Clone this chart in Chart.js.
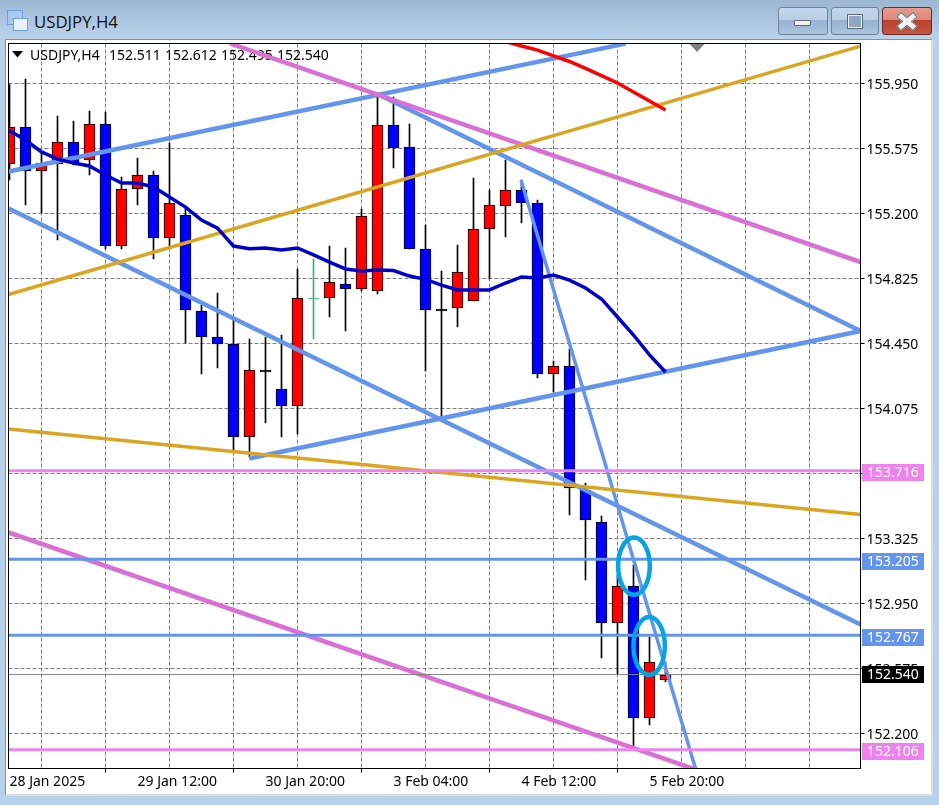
<!DOCTYPE html>
<html lang="en">
<head>
<meta charset="UTF-8">
<title>USDJPY,H4</title>
<script src="https://cdn.jsdelivr.net/npm/chart.js@4"></script>
<style>
    html, body { margin: 0; padding: 0; }
    body { width: 939px; height: 805px; overflow: hidden; position: relative; background: #b8d1ec; }
    #titlebar { position: absolute; left: 0; top: 0; width: 939px; height: 39px; background: linear-gradient(#9db6d2, #bad3ed); }
    #title { position: absolute; left: 34px; top: 10px; font: 16.8px "Open Sans", sans-serif; line-height: 24px; color: #111; }
    .icon { position: absolute; box-sizing: border-box; border: 1px solid #6f9fe0; }
    .btn { position: absolute; top: 7px; height: 28px; box-sizing: border-box; border: 1px solid #6f8299; border-radius: 3px;
           background: linear-gradient(#c3d6ea 0, #b9cfe6 46%, #97b1cf 47%, #abc4de 100%); }
    #btn-close { border-color: #6d2a2a; background: linear-gradient(#e59a8c 0, #dc8878 46%, #b8412b 47%, #c4553f 100%); }
    .glyph { position: absolute; box-sizing: border-box; background: #f4f4f4; border: 1px solid #5f6b7a; }
    #client { position: absolute; left: 5px; top: 39px; width: 928px; height: 757px; box-sizing: border-box; background: #fff;
              border-left: 1px solid #8f8f8f; border-top: 1px solid #8f8f8f; border-right: 2px solid #dedede; border-bottom: 2px solid #dedede; }
    #mychart { position: absolute; left: 0; top: 0; }
</style>
</head>
<body>
<div id="titlebar">
    <div class="icon" style="left:7px;top:10px;width:16px;height:15px;background:#a9c9ee"></div>
    <div class="icon" style="left:13px;top:18px;width:15px;height:13px;background:#e8f1fb"></div>
    <div id="title">USDJPY,H4</div>
    <div class="btn" style="left:778px;width:50px"><div class="glyph" style="left:15px;top:12px;width:17px;height:6px;border-radius:1px"></div></div>
    <div class="btn" style="left:831px;width:48px"><div class="glyph" style="left:15px;top:6px;width:16px;height:15px;border:2px solid #f0f0f0;outline:1px solid #5f6b7a;outline-offset:-1px;background:#8ea8c4"></div></div>
    <div class="btn" id="btn-close" style="left:882px;width:50px">
        <div class="glyph" style="left:13px;top:10px;width:22px;height:7px;transform:rotate(40deg)"></div>
        <div class="glyph" style="left:13px;top:10px;width:22px;height:7px;transform:rotate(-40deg)"></div>
        <div style="position:absolute;left:20px;top:10px;width:8px;height:7px;background:#f4f4f4"></div>
    </div>
</div>
<div id="client"></div>
<canvas id="mychart" width="939" height="805"></canvas>
<script>
    // candles, left to right, one per 4 hours
    var opens  = [155.486,155.699,155.448,155.486,155.612,155.506,155.716,155.015,155.344,155.422,155.056,155.191,154.640,154.485,154.450,153.908,154.300,154.190,154.092,154.715,154.715,154.796,154.762,154.753,155.711,155.581,154.998,154.649,154.652,154.695,155.113,155.246,155.338,155.263,154.274,154.320,153.605,153.423,152.840,153.051,152.289,152.511];
    var highs  = [155.947,155.976,155.549,155.762,155.734,155.791,155.786,155.411,155.520,155.445,155.607,155.243,154.672,154.741,154.586,154.476,154.488,154.499,154.880,154.935,155.012,155.001,155.226,155.872,155.872,155.716,155.134,154.868,155.018,155.405,155.336,155.509,155.393,155.278,154.349,154.418,153.645,153.455,153.114,153.172,152.757,152.612];
    var lows   = [155.393,155.249,155.203,155.047,155.480,155.422,154.995,154.995,155.249,154.937,155.007,154.453,154.274,154.309,153.830,153.797,153.991,153.913,153.928,154.476,154.603,154.522,154.753,154.738,155.465,154.998,154.291,154.020,154.545,154.695,154.822,155.064,155.145,154.251,154.170,153.461,153.086,152.636,152.543,152.122,152.249,152.495];
    var closes = [155.699,155.448,155.491,155.612,155.491,155.716,155.015,155.344,155.422,155.056,155.261,154.646,154.485,154.450,153.908,154.300,154.300,154.092,154.715,154.715,154.802,154.767,155.188,155.711,155.578,154.998,154.646,154.649,154.865,155.108,155.249,155.338,155.263,154.274,154.320,153.616,153.429,152.840,153.051,152.292,152.610,152.540];
    var greenBars = [19];

    // moving averages
    var blueMa = [155.678,155.624,155.555,155.514,155.491,155.474,155.422,155.376,155.376,155.353,155.295,155.237,155.162,155.116,155.012,154.997,155.001,154.989,155.001,154.961,154.920,154.880,154.868,154.874,154.871,154.839,154.820,154.787,154.759,154.759,154.759,154.799,154.834,154.828,154.845,154.816,154.770,154.707,154.603,154.499,154.384,154.286];
    var redMaBars = [31,32,33,34,35,36,37,38,39,40,41];
    var redMa = [156.192,156.166,156.143,156.109,156.077,156.037,155.996,155.953,155.901,155.849,155.797];

    // trend lines: [bar, price] at both ends
    var channelTop     = [[-0.06,155.442],[38.5,156.180]];
    var channelFall    = [[23,155.890],[53.19,154.522]];
    var channelLow     = [[-0.06,155.229],[53.19,152.829]];
    var channelRise    = [[14.97,153.787],[53.19,154.522]];
    var steepFall      = [[31.97,155.393],[42.875,151.998]];
    var orchidTop      = [[13.78,156.181],[53.19,154.920]];
    var orchidLow      = [[-0.06,153.360],[53.19,151.664]];
    var goldRise       = [[-0.06,154.733],[53.19,156.166]];
    var goldFall       = [[-0.06,153.957],[53.19,153.463]];

    // circled areas: centre bar, centre price, radius in bars, radius in price
    var circledBars = [39.03,39.98];
    var circledPrices = [153.166,152.705];
    var circledBarRadius = [0.99,0.98];
    var circledPriceRadius = [0.165,0.167];

    // right axis
    var yTicks = [155.95,155.575,155.2,154.825,154.45,154.075,153.7,153.325,152.95,152.575,152.2];
    var levelPrices = [153.716,153.205,152.767,152.106];
    var levelColors = ['#ee82ee','#6495ed','#6495ed','#ee82ee'];
    var lastPrice = 152.54;

    // bottom axis
    var gridBars = [0,4,8,12,16,20,24,28,32,36,40,44,48,52];
    var labelBars = [0,8,16,24,32,40];
    var labelTexts = ['28 Jan 2025','29 Jan 12:00','30 Jan 20:00','3 Feb 04:00','4 Feb 12:00','5 Feb 20:00'];

    // header
    var symbolText = 'USDJPY,H4';
    var headerValues = [152.511,152.612,152.495,152.540];

    var textFont = '14px "Noto Sans"';
    var barNumbers = closes.map(function (c, i) { return i; });

    function isGreen(i) { return greenBars.indexOf(i) >= 0; }
    function bodyFill(i) {
        if (isGreen(i)) return '#3cb371';
        if (opens[i] === closes[i]) return '#000';
        return closes[i] > opens[i] ? '#ff0000' : '#0000ff';
    }
    function pairs(list) {
        return list.map(function (p) { return {x: p[0], y: p[1]}; });
    }
    function lineSet(points, color, width) {
        return {type: 'line', data: points, borderColor: color, borderWidth: width, pointRadius: 0, tension: 0,
                order: 5, clip: 0, parsing: {xAxisKey: 'x', yAxisKey: 'y'}};
    }
    function flatLine(price) {
        return [{x: -0.06, y: price}, {x: 53.19, y: price}];
    }

    var datasets = [];
    datasets.push({type: 'bar', order: 20, clip: 0, grouped: false, barThickness: 1, borderWidth: 0,
        data: barNumbers.map(function (i) { return {x: i, y: [lows[i], highs[i]]}; }),
        backgroundColor: barNumbers.map(function (i) { return isGreen(i) ? '#3cb371' : '#000'; })});
    datasets.push({type: 'bar', order: 19, clip: 0, grouped: false, barThickness: 11, borderWidth: 1, borderSkipped: false,
        data: barNumbers.map(function (i) { return {x: i, y: [opens[i], closes[i]]}; }),
        backgroundColor: barNumbers.map(bodyFill),
        borderColor: barNumbers.map(function (i) { return isGreen(i) ? '#3cb371' : '#000'; })});

    datasets.push(lineSet(barNumbers.map(function (i) { return {x: i, y: blueMa[i]}; }), '#0000cd', 3.5));
    datasets.push(lineSet(redMaBars.map(function (b, i) { return {x: b, y: redMa[i]}; }), '#ff0000', 3.5));
    datasets.push(lineSet(flatLine(lastPrice), '#808080', 1));
    levelPrices.forEach(function (p, i) { datasets.push(lineSet(flatLine(p), levelColors[i], 3)); });
    datasets.push(lineSet(pairs(goldRise), '#daa520', 3.5));
    datasets.push(lineSet(pairs(goldFall), '#daa520', 3.5));
    datasets.push(lineSet(pairs(orchidTop), '#da70d6', 4.5));
    datasets.push(lineSet(pairs(orchidLow), '#da70d6', 4.5));
    datasets.push(lineSet(pairs(channelTop), '#6495ed', 4.5));
    datasets.push(lineSet(pairs(channelFall), '#6495ed', 4.5));
    datasets.push(lineSet(pairs(channelLow), '#6495ed', 4.5));
    datasets.push(lineSet(pairs(channelRise), '#6495ed', 4.5));
    datasets.push(lineSet(pairs(steepFall), '#6495ed', 3.5));

    // candles in the terminal sit on whole pixels
    var snapBars = {
        id: 'snapBars',
        afterDatasetsUpdate: function (chart) {
            chart.getSortedVisibleDatasetMetas().forEach(function (meta) {
                if (meta.type !== 'bar') return;
                meta.data.forEach(function (el, i) {
                    el.y = Math.round(el.y);
                    el.base = Math.round(el.base);
                    if (el.y === el.base) el.base = el.y + (isGreen(i) ? 1 : 2);
                });
            });
        }
    };

    var chartFurniture = {
        id: 'chartFurniture',
        beforeDatasetsDraw: function (chart) {
            var c = chart.ctx;
            c.save();
            c.fillStyle = '#000';
            c.beginPath();
            c.moveTo(12, 51); c.lineTo(23, 51); c.lineTo(17.5, 57.5);
            c.closePath(); c.fill();
            c.font = textFont;
            c.textBaseline = 'middle';
            c.textAlign = 'left';
            c.fillText(symbolText, 30, 56);
            headerValues.forEach(function (v, i) { c.fillText(v.toFixed(3), 109 + 56 * i, 56); });
            c.fillStyle = '#808080';
            c.beginPath();
            c.moveTo(689, 43.5); c.lineTo(705, 43.5); c.lineTo(697, 52);
            c.closePath(); c.fill();
            c.restore();
        },
        afterDatasetsDraw: function (chart) {
            var c = chart.ctx, x = chart.scales.x, y = chart.scales.y, a = chart.chartArea;
            c.save();
            c.strokeStyle = '#08a4e0';
            c.lineWidth = 4.5;
            circledBars.forEach(function (b, i) {
                var cx = x.getPixelForValue(b), cy = y.getPixelForValue(circledPrices[i]);
                var rx = x.getPixelForValue(b + circledBarRadius[i]) - cx;
                var ry = y.getPixelForValue(circledPrices[i] - circledPriceRadius[i]) - cy;
                c.beginPath();
                c.ellipse(cx, cy, rx, ry, 0, 0, Math.PI * 2);
                c.stroke();
            });
            c.strokeStyle = '#000';
            c.lineWidth = 1;
            c.strokeRect(a.left, a.top, a.right - a.left, a.bottom - a.top);

            var tags = levelPrices.map(function (p, i) { return {p: p, color: levelColors[i], up: 6}; });
            tags.push({p: lastPrice, color: '#000', up: 8});
            c.font = textFont;
            c.textBaseline = 'middle';
            c.textAlign = 'left';
            tags.forEach(function (t) {
                var top = Math.floor(y.getPixelForValue(t.p)) - t.up;
                c.fillStyle = t.color;
                c.fillRect(862, top, 62, 17);
                c.fillStyle = '#fff';
                c.fillText(t.p.toFixed(3), 867, top + 9.5);
            });
            c.restore();
        }
    };

    var myChart = new Chart(document.getElementById('mychart'), {
        type: 'bar',
        data: {datasets: datasets},
        plugins: [snapBars, chartFurniture],
        options: {
            responsive: false,
            animation: false,
            events: [],
            layout: {padding: {left: 8.5, top: 43.5, right: 0, bottom: 0}},
            plugins: {legend: {display: false}, tooltip: {enabled: false}, title: {display: false}},
            scales: {
                x: {
                    type: 'linear',
                    offset: false,
                    min: -0.0625,
                    max: 53.1875,
                    afterBuildTicks: function (s) { s.ticks = gridBars.map(function (b) { return {value: b}; }); },
                    afterFit: function (s) { s.height = 36.5; },
                    border: {display: false, dash: [4, 2]},
                    grid: {
                        color: function (ctx) { return ctx.tick && ctx.tick.value === 0 ? 'rgba(0,0,0,0)' : '#808080'; },
                        tickLength: 4,
                        tickColor: function (ctx) {
                            return ctx.tick && labelBars.indexOf(ctx.tick.value) >= 0 ? '#000' : 'rgba(0,0,0,0)';
                        }
                    },
                    ticks: {
                        autoSkip: false,
                        maxRotation: 0,
                        align: 'start',
                        padding: 1,
                        color: '#000',
                        font: {family: '"Noto Sans"', size: 14},
                        callback: function (v) {
                            var k = labelBars.indexOf(v);
                            return k >= 0 ? labelTexts[k] : '';
                        }
                    }
                },
                y: {
                    position: 'right',
                    min: 151.9981,
                    max: 156.1808,
                    afterBuildTicks: function (s) { s.ticks = yTicks.map(function (v) { return {value: v}; }); },
                    afterFit: function (s) { s.width = 78.5; },
                    border: {display: false, dash: [4, 2]},
                    grid: {color: '#808080', tickLength: 4, tickColor: '#000'},
                    ticks: {
                        autoSkip: false,
                        padding: 2,
                        labelOffset: 1.5,
                        color: '#000',
                        font: {family: '"Noto Sans"', size: 14},
                        callback: function (v) { return v.toFixed(3); }
                    }
                }
            }
        }
    });
</script>
</body>
</html>
